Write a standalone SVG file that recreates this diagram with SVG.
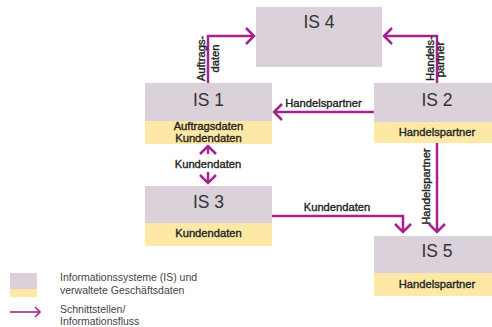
<svg xmlns="http://www.w3.org/2000/svg" width="492" height="327" viewBox="0 0 492 327">
<style>
.g{fill:#dad1da}
.y{fill:#fde9a5}
.t{font-family:"Liberation Sans",Arial,sans-serif;font-size:17.5px;fill:#333;text-anchor:middle}
.l{font-family:"Liberation Sans",Arial,sans-serif;font-size:11.2px;fill:#222;stroke:#222;stroke-width:0.35;text-anchor:middle}
.lg{font-family:"Liberation Sans",Arial,sans-serif;font-size:10.5px;fill:#444}
.c{fill:none;stroke:#a6228e;stroke-width:2.5}
</style>
<defs>
<marker id="ah" markerUnits="userSpaceOnUse" viewBox="-10 -10 12 20" refX="0" refY="0" markerWidth="12" markerHeight="20" orient="auto-start-reverse">
<path d="M-8,-8 L0,0 L-8,8" fill="none" stroke="#a6228e" stroke-width="2.5"/>
</marker>
<marker id="ahs" markerUnits="userSpaceOnUse" viewBox="-8 -8 10 16" refX="0" refY="0" markerWidth="10" markerHeight="16" orient="auto">
<path d="M-5,-5 L0,0 L-5,5" fill="none" stroke="#a6228e" stroke-width="1.6"/>
</marker>
</defs>
<rect width="492" height="327" fill="#fff"/>
<g id="IS4"><rect class="g" x="256" y="7" width="126" height="60"/><text class="t" x="319" y="28">IS 4</text></g>
<g id="IS1"><rect class="g" x="145" y="83" width="127" height="38"/><rect class="y" x="145" y="121" width="127" height="23"/><text class="t" x="208.5" y="106">IS 1</text><text class="l" x="208.5" y="130">Auftragsdaten</text><text class="l" x="208.5" y="142">Kundendaten</text></g>
<g id="IS2"><rect class="g" x="374" y="83" width="127" height="39"/><rect class="y" x="374" y="122" width="127" height="21"/><text class="t" x="437" y="106">IS 2</text><text class="l" x="437" y="136">Handelspartner</text></g>
<g id="IS3"><rect class="g" x="145" y="186" width="127" height="37"/><rect class="y" x="145" y="223" width="127" height="23"/><text class="t" x="208.5" y="208">IS 3</text><text class="l" x="208.5" y="237">Kundendaten</text></g>
<g id="IS5"><rect class="g" x="374" y="236" width="127" height="37"/><rect class="y" x="374" y="273" width="127" height="23"/><text class="t" x="437" y="257">IS 5</text><text class="l" x="437" y="288">Handelspartner</text></g>
<g id="connectors">
<path class="c" d="M208,83 V36 H254" marker-end="url(#ah)"/>
<text class="l" transform="translate(205,58.5) rotate(-90)">Auftrags-</text>
<text class="l" transform="translate(219,58.5) rotate(-90)">daten</text>
<path class="c" d="M437,83 V36 H384" marker-end="url(#ah)"/>
<text class="l" transform="translate(433.5,58.5) rotate(-90)">Handels-</text>
<text class="l" transform="translate(444,59.5) rotate(-90)">partner</text>
<path class="c" d="M374,112 H274" marker-end="url(#ah)"/>
<text class="l" x="323.5" y="107">Handelspartner</text>
<path class="c" d="M208,154 V146" marker-end="url(#ah)"/>
<path class="c" d="M208,172 V183" marker-end="url(#ah)"/>
<text class="l" x="208" y="168">Kundendaten</text>
<path class="c" d="M272,216 H403 V232" marker-end="url(#ah)"/>
<text class="l" x="337" y="211">Kundendaten</text>
<path class="c" d="M437,143 V232" marker-end="url(#ah)"/>
<text class="l" transform="translate(430,186.5) rotate(-90)">Handelspartner</text>
</g>
<g id="legend">
<rect class="g" x="10" y="273" width="27" height="16"/><rect class="y" x="10" y="289" width="27" height="8"/>
<text class="lg" x="60" y="281">Informationssysteme (IS) und</text>
<text class="lg" x="60" y="294">verwaltete Geschäftsdaten</text>
<path d="M10,312 H40" fill="none" stroke="#a6228e" stroke-width="1.6" marker-end="url(#ahs)"/>
<text class="lg" x="60" y="313">Schnittstellen/</text>
<text class="lg" x="60" y="325">Informationsfluss</text>
</g>
</svg>
